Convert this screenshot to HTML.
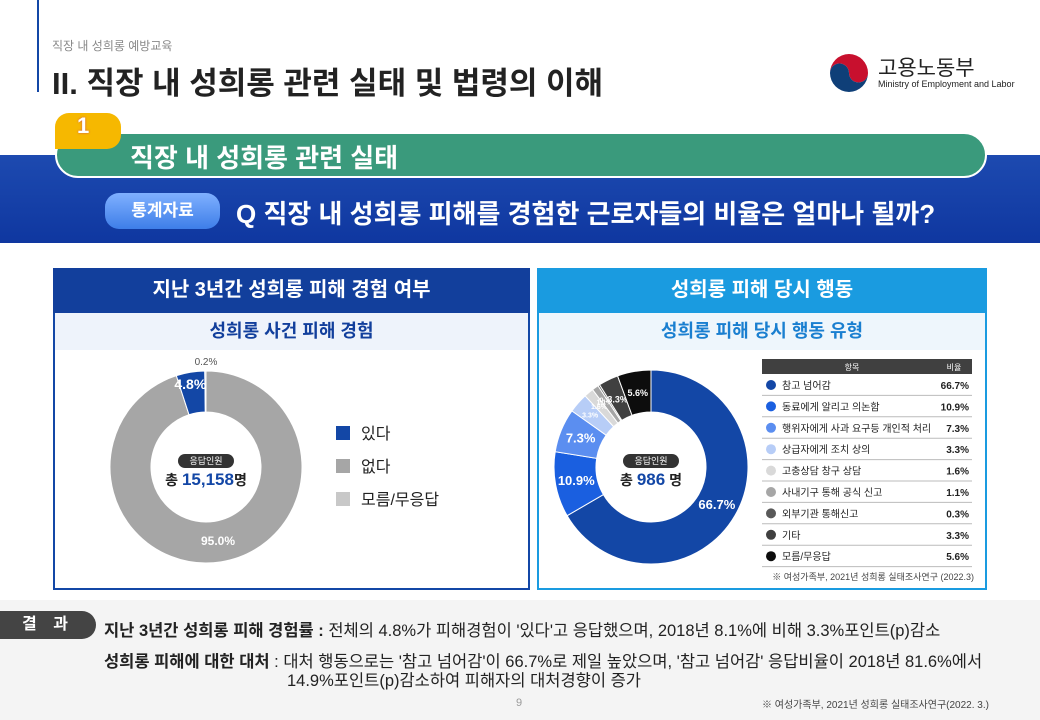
<!DOCTYPE html>
<html><head><meta charset="utf-8">
<style>
*{margin:0;padding:0;box-sizing:border-box}
body{width:1040px;height:720px;position:relative;background:#fff;font-family:"Liberation Sans","Noto Sans CJK KR",sans-serif;overflow:hidden}
.abs{position:absolute}
.b{font-weight:bold}
</style></head><body>
<div class="abs" style="left:37px;top:0;width:2px;height:92px;background:#1347a6"></div>
<div class="abs" style="left:52px;top:37px;font-size:12px;color:#888">직장 내 성희롱 예방교육</div>
<div class="abs b" style="left:52px;top:58px;font-size:31px;color:#222;white-space:nowrap">II. 직장 내 성희롱 관련 실태 및 법령의 이해</div>
<div class="abs" style="left:826px;top:50px;width:190px;height:44px">
<svg width="46" height="46" viewBox="0 0 46 46" style="position:absolute;left:0;top:0"><path d="M4 23 A19 19 0 0 1 42 23 A9.5 9.5 0 0 1 23 23 A9.5 9.5 0 0 0 4 23Z" fill="#c8102e"/><path d="M4 23 A19 19 0 0 0 42 23 A9.5 9.5 0 0 1 23 23 A9.5 9.5 0 0 0 4 23Z" fill="#0f3f78"/></svg>
<div class="abs" style="left:52px;top:2px;font-size:21px;color:#222">고용노동부</div>
<div class="abs" style="left:52px;top:29px;font-size:9px;color:#222;white-space:nowrap">Ministry of Employment and Labor</div>
</div>
<div class="abs" style="left:0;top:155px;width:1040px;height:88px;background:linear-gradient(180deg,#1d4ab0,#0f37a0)"></div>
<div class="abs" style="left:55px;top:132px;width:932px;height:46px;background:#3a9a7c;border-radius:23px;border:2px solid #fff"></div>
<div class="abs b" style="left:55px;top:113px;width:66px;height:36px;background:#f6b800;border-radius:14px 14px 14px 0;color:#fff;font-size:22px;padding-left:22px;text-shadow:0 0 2px #c55">1</div>
<div class="abs b" style="left:130px;top:138px;font-size:26px;color:#fff;white-space:nowrap">직장 내 성희롱 관련 실태</div>
<div class="abs b" style="left:105px;top:193px;width:115px;height:36px;background:linear-gradient(#7fb0ff,#3e7ee8);border-radius:14px;color:#fff;font-size:17px;text-align:center;line-height:36px">통계자료</div>
<div class="abs b" style="left:236px;top:194px;font-size:26px;color:#fff;white-space:nowrap">Q 직장 내 성희롱 피해를 경험한 근로자들의 비율은 얼마나 될까?</div>

<div class="abs" style="left:53px;top:268px;width:477px;height:322px;border:2px solid #1347a6"></div>
<div class="abs b" style="left:53px;top:268px;width:477px;height:45px;background:#123f9c;color:#fff;font-size:20px;text-align:center;line-height:45px">지난 3년간 성희롱 피해 경험 여부</div>
<div class="abs b" style="left:55px;top:313px;width:473px;height:37px;background:#eef3fb;color:#123f9c;font-size:18px;text-align:center;line-height:37px">성희롱 사건 피해 경험</div>
<svg class="abs" id="leftSvg" style="left:53px;top:350px" width="477" height="240"></svg>

<div class="abs" style="left:537px;top:268px;width:450px;height:322px;border:2px solid #1a9be0"></div>
<div class="abs b" style="left:537px;top:268px;width:450px;height:45px;background:#1a9be0;color:#fff;font-size:20px;text-align:center;line-height:45px">성희롱 피해 당시 행동</div>
<div class="abs b" style="left:539px;top:313px;width:446px;height:37px;background:#eef6fc;color:#1a7fd0;font-size:18px;text-align:center;line-height:37px">성희롱 피해 당시 행동 유형</div>
<svg class="abs" id="rightSvg" style="left:537px;top:350px" width="450" height="240"></svg>

<div class="abs" style="left:0;top:600px;width:1040px;height:120px;background:#f4f4f4"></div>
<div class="abs b" style="left:0;top:611px;width:96px;height:28px;background:#444;border-radius:0 14px 14px 0;color:#fff;font-size:16px;text-align:center;line-height:28px;letter-spacing:6px">결 과</div>
<div class="abs" style="left:104px;top:617px;font-size:16.5px;color:#222;white-space:nowrap"><b>지난 3년간 성희롱 피해 경험률 :</b> 전체의 4.8%가 피해경험이 '있다'고 응답했으며, 2018년 8.1%에 비해 3.3%포인트(p)감소</div>
<div class="abs" style="left:104px;top:648px;font-size:16.5px;color:#222;white-space:nowrap"><b>성희롱 피해에 대한 대처</b> : 대처 행동으로는 '참고 넘어감'이 66.7%로 제일 높았으며, '참고 넘어감' 응답비율이 2018년 81.6%에서</div>
<div class="abs" style="left:287px;top:667px;font-size:16.5px;color:#222;white-space:nowrap">14.9%포인트(p)감소하여 피해자의 대처경향이 증가</div>
<div class="abs" style="left:516px;top:697px;font-size:11px;color:#999">9</div>
<div class="abs" style="left:762px;top:696px;font-size:10px;color:#444">※ 여성가족부, 2021년 성희롱 실태조사연구(2022. 3.)</div>

<script>
const leftLabels=["없다","있다","모름/무응답"];
const leftValues=[95.0,4.8,0.2];
const leftColors=["#a6a6a6","#1347a6","#c8c8c8"];
const rightLabels=["참고 넘어감","동료에게 알리고 의논함","행위자에게 사과 요구등 개인적 처리","상급자에게 조치 상의","고충상담 창구 상담","사내기구 통해 공식 신고","외부기관 통해신고","기타","모름/무응답"];
const rightValues=[66.7,10.9,7.3,3.3,1.6,1.1,0.3,3.3,5.6];
const rightColors=["#1347a6","#1a5fe0","#5b8ef0","#b7cdf7","#d9d9d9","#a6a6a6","#595959","#404040","#0d0d0d"];
const NS="http://www.w3.org/2000/svg";
function mk(t,a,p){const e=document.createElementNS(NS,t);for(const k in a)e.setAttribute(k,a[k]);p.appendChild(e);return e;}
function arc(cx,cy,R,r,a0,a1){const p=(a,rr)=>[cx+rr*Math.sin(a),cy-rr*Math.cos(a)];const l=(a1-a0)>Math.PI?1:0;const[x0,y0]=p(a0,R),[x1,y1]=p(a1,R),[x2,y2]=p(a1,r),[x3,y3]=p(a0,r);return `M${x0} ${y0}A${R} ${R} 0 ${l} 1 ${x1} ${y1}L${x2} ${y2}A${r} ${r} 0 ${l} 0 ${x3} ${y3}Z`;}
function donut(svg,vals,cols,cx,cy,R,r,labelFn,nm){const tot=vals.reduce((a,b)=>a+b,0);let a=0;vals.forEach((v,i)=>{const a1=a+v/tot*2*Math.PI;const s=mk('path',{d:arc(cx,cy,R,r,a,a1),fill:cols[i],stroke:'#fff','stroke-width':1},svg);labelFn(i,(a+a1)/2,v);a=a1;});}
const L=document.getElementById('leftSvg');
const lcx=153,lcy=117,lR=96,lr=55;
donut(L,leftValues,leftColors,lcx,lcy,lR,lr,(i,m,v)=>{
 let x,y,col,fs,w='bold';
 if(i==0){x=lcx+12;y=lcy+78;col='#fff';fs=12;}
 else if(i==1){x=lcx+(lR-12)*Math.sin(m)-2;y=lcy-(lR-12)*Math.cos(m)+5;col='#fff';fs=14;}
 else {x=lcx;y=lcy-lR-6;col='#555';fs=10;w='normal';}
 const t=mk('text',{x:x,y:y,'text-anchor':'middle','font-size':fs,fill:col,'font-weight':w},L);t.textContent=v.toFixed(1)+'%';
 
},'left');
mk('rect',{x:lcx-28,y:lcy-13,width:56,height:14,rx:7,fill:'#333'},L);
let t=mk('text',{x:lcx,y:lcy-3,'text-anchor':'middle','font-size':9,fill:'#fff'},L);t.textContent='응답인원';
t=mk('text',{x:lcx,y:lcy+18,'text-anchor':'middle','font-size':14,fill:'#222','font-weight':'bold'},L);
t.innerHTML='총 <tspan fill="#1347a6" font-size="17">15,158</tspan>명';

[1,0,2].forEach((idx,k)=>{const y=76+k*33;const rc=mk('rect',{x:283,y:y,width:14,height:14,fill:leftColors[idx]},L);
 const tx=mk('text',{x:308,y:y+13,'font-size':16,fill:'#222'},L);tx.textContent=leftLabels[idx];});
const Rs=document.getElementById('rightSvg');
const rcx=114,rcy=117,rR=97,rr=55;
donut(Rs,rightValues,rightColors,rcx,rcy,rR,rr,(i,m,v)=>{
 const mid=(rR+rr)/2+(i>=3&&i<=6?5:0);const x=rcx+mid*Math.sin(m),y=rcy-mid*Math.cos(m)+4;
 const fs=i<3?13:(i==7||i==8?9:7);
 const tx=mk('text',{x:x,y:y,'text-anchor':'middle','font-size':fs,fill:'#fff','font-weight':'bold'},Rs);tx.textContent=v.toFixed(1)+'%';
 
},'right');
mk('rect',{x:rcx-28,y:rcy-13,width:56,height:14,rx:7,fill:'#333'},Rs);
t=mk('text',{x:rcx,y:rcy-3,'text-anchor':'middle','font-size':9,fill:'#fff'},Rs);t.textContent='응답인원';
t=mk('text',{x:rcx,y:rcy+18,'text-anchor':'middle','font-size':14,fill:'#222','font-weight':'bold'},Rs);
t.innerHTML='총 <tspan fill="#1347a6" font-size="17">986</tspan> 명';

const tx0=225,tw=210;
mk('rect',{x:tx0,y:9,width:tw,height:15,fill:'#404040'},Rs);
t=mk('text',{x:tx0+90,y:20,'text-anchor':'middle','font-size':8,fill:'#fff'},Rs);t.textContent='항목';
t=mk('text',{x:tx0+192,y:20,'text-anchor':'middle','font-size':8,fill:'#fff'},Rs);t.textContent='비율';
rightLabels.forEach((lb,i)=>{const y=24+i*21.4;
 const c=mk('circle',{cx:tx0+9,cy:y+11,r:5,fill:rightColors[i]},Rs);
 const a=mk('text',{x:tx0+20,y:y+15,'font-size':10,fill:'#222'},Rs);a.textContent=lb;
 const b=mk('text',{x:tx0+tw-3,y:y+15,'text-anchor':'end','font-size':10,fill:'#222','font-weight':'bold'},Rs);b.textContent=rightValues[i].toFixed(1)+'%';
 mk('line',{x1:tx0,x2:tx0+tw,y1:y+21.4,y2:y+21.4,stroke:'#bbb','stroke-width':1},Rs);
});
t=mk('text',{x:tx0+tw+2,y:230,'text-anchor':'end','font-size':9,fill:'#444'},Rs);t.textContent='※ 여성가족부, 2021년 성희롱 실태조사연구 (2022.3)';

</script>
</body></html>
